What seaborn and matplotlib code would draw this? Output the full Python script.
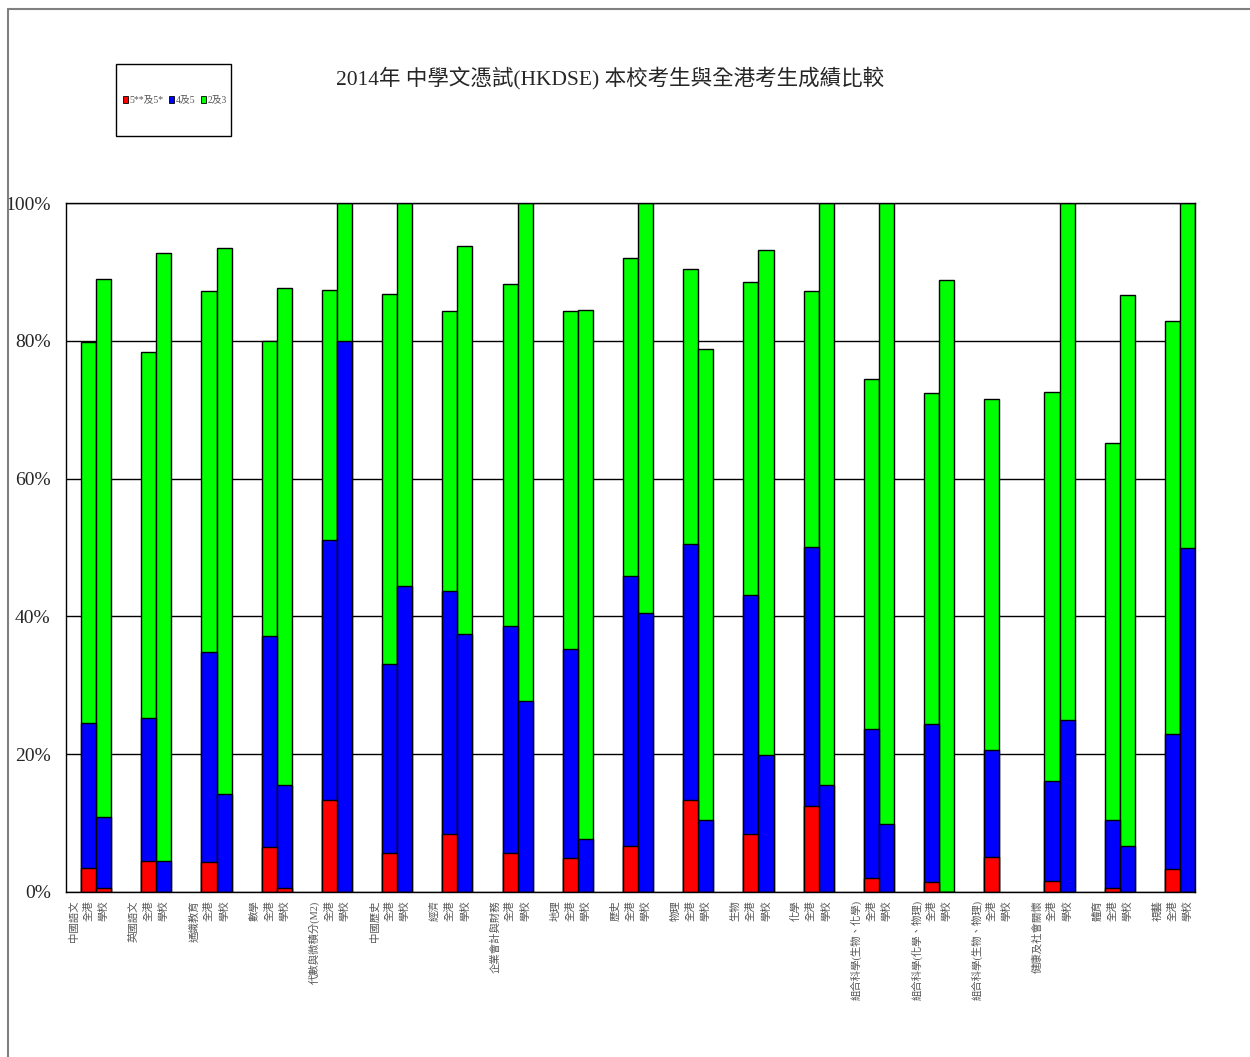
import matplotlib
matplotlib.use("Agg")
import numpy as np
import pandas as pd
import matplotlib.pyplot as plt
from matplotlib.patches import Patch, Rectangle
from matplotlib.lines import Line2D
import seaborn as sns

subjects = ["中國語文", "英國語文", "通識教育", "數學", "代數與微積分(M2)", "中國歷史",
            "經濟", "企業會計與財務", "地理", "歷史", "物理", "生物", "化學",
            "組合科學(生物、化學)", "組合科學(化學、物理)", "組合科學(生物、物理)",
            "健康及社會關懷", "體育", "視藝"]

# % of candidates per grade band, 全港 (Hong Kong)
hk_5star = [3.5, 4.5, 4.4, 6.5, 13.4, 5.7, 8.4, 5.7, 4.9, 6.7, 13.4, 8.4, 12.5, 2.0, 1.5, 5.1, 1.6, 0.6, 3.3]
hk_4to5 = [21.0, 20.8, 30.4, 30.7, 37.7, 27.4, 35.3, 32.9, 30.4, 39.2, 37.1, 34.7, 37.6, 21.7, 22.9, 15.5, 14.5, 9.8, 19.6]
hk_2to3 = [55.3, 53.1, 52.4, 42.8, 36.3, 53.7, 40.6, 49.6, 49.0, 46.1, 39.9, 45.4, 37.1, 50.8, 48.0, 51.0, 56.5, 54.8, 60.0]

# 學校 (our school); no candidates for 組合科學(生物、物理)
sc_5star = [0.6, 0, 0, 0.6, 0, 0, 0, 0, 0, 0, 0, 0, 0, 0, 0, np.nan, 0, 0, 0]
sc_4to5 = [10.3, 4.5, 14.2, 14.9, 80.0, 44.4, 37.4, 27.7, 7.7, 40.5, 10.4, 19.9, 15.5, 9.9, 0, np.nan, 25.0, 6.7, 49.9]
sc_2to3 = [78.1, 88.2, 79.3, 72.2, 20.0, 55.6, 56.4, 72.3, 76.8, 59.5, 68.4, 73.3, 84.5, 90.1, 88.8, np.nan, 75.0, 79.9, 50.1]

band_labels = ["5**及5*", "4及5", "2及3"]
band_colors = ["#FF0000", "#0000FF", "#00FF00"]

sns.set_style("white")
plt.rcParams["font.family"] = ["Liberation Serif", "Noto Sans CJK TC", "DejaVu Sans"]

# each subject takes 4 slots: label, 全港, 學校, gap
n_slots = len(subjects) * 4 - 1
rows = []
for i in range(len(subjects)):
    for off, (r, b, g) in [(1, (hk_5star[i], hk_4to5[i], hk_2to3[i])),
                           (2, (sc_5star[i], sc_4to5[i], sc_2to3[i]))]:
        if np.isnan(r):
            continue
        rows.append({"slot": 4 * i + off, "red": r, "blue": r + b, "green": r + b + g})
df = pd.DataFrame(rows)

fig = plt.figure(figsize=(12.5, 10.57), dpi=100)
ax = fig.add_axes([66 / 1250, 1 - 892 / 1057, 1129 / 1250, 689 / 1057])

order = list(range(n_slots))
for col, color in zip(["green", "blue", "red"], band_colors[::-1]):
    sns.barplot(data=df, x="slot", y=col, order=order, color=color, saturation=1,
                width=1.0, edgecolor="black", linewidth=1, errorbar=None, ax=ax)

ax.set_ylim(0, 100)
ax.set_xlim(-0.5, n_slots - 0.5)
ax.set_yticks([0, 20, 40, 60, 80, 100])
ax.set_yticklabels([f"{v}%" for v in range(0, 101, 20)], fontsize=14)
ax.yaxis.grid(True, color="black", linewidth=1)
ax.set_axisbelow(True)
ax.tick_params(axis="y", length=0, pad=11)

tick_pos, tick_lab = [], []
for i, s in enumerate(subjects):
    tick_pos += [4 * i, 4 * i + 1, 4 * i + 2]
    tick_lab += [s, "全港", "學校"]
ax.set_xticks(tick_pos)
ax.set_xticklabels(tick_lab, rotation=90, fontsize=7.5, color="#555555", va="top")
ax.tick_params(axis="x", length=0, pad=6)
ax.set_xticks([4 * i - 0.5 for i in range(1, len(subjects))], minor=True)
ax.tick_params(axis="x", which="minor", length=3, direction="in", color="black")
ax.set_xlabel("")
ax.set_ylabel("")
for sp in ax.spines.values():
    sp.set_color("black")
    sp.set_linewidth(1)

fig.text(610 / 1250, 1 - 79 / 1057, "2014年 中學文憑試(HKDSE) 本校考生與全港考生成績比較",
         ha="center", va="center", fontsize=15.5)

# legend box
fig.add_artist(Rectangle((116 / 1250, 1 - 136 / 1057), 115 / 1250, 72 / 1057,
                         transform=fig.transFigure, fill=False, edgecolor="black", linewidth=1))
handles = [Patch(facecolor=c, edgecolor="black", linewidth=0.6) for c in band_colors]
fig.legend(handles, band_labels, loc="center", bbox_to_anchor=(175 / 1250, 1 - 100 / 1057),
           ncol=3, frameon=False, fontsize=7, handlelength=0.5, handleheight=0.7,
           handletextpad=0.15, columnspacing=0.6, borderpad=0, labelcolor="#555555")

# outer chart frame
fig.add_artist(Line2D([8 / 1250, 1], [1 - 9 / 1057, 1 - 9 / 1057], transform=fig.transFigure,
                      color="#808080", linewidth=1.5))
fig.add_artist(Line2D([8 / 1250, 8 / 1250], [0, 1 - 9 / 1057], transform=fig.transFigure,
                      color="#808080", linewidth=1.5))

fig.savefig("out.png", dpi=100)
plt.close(fig)
